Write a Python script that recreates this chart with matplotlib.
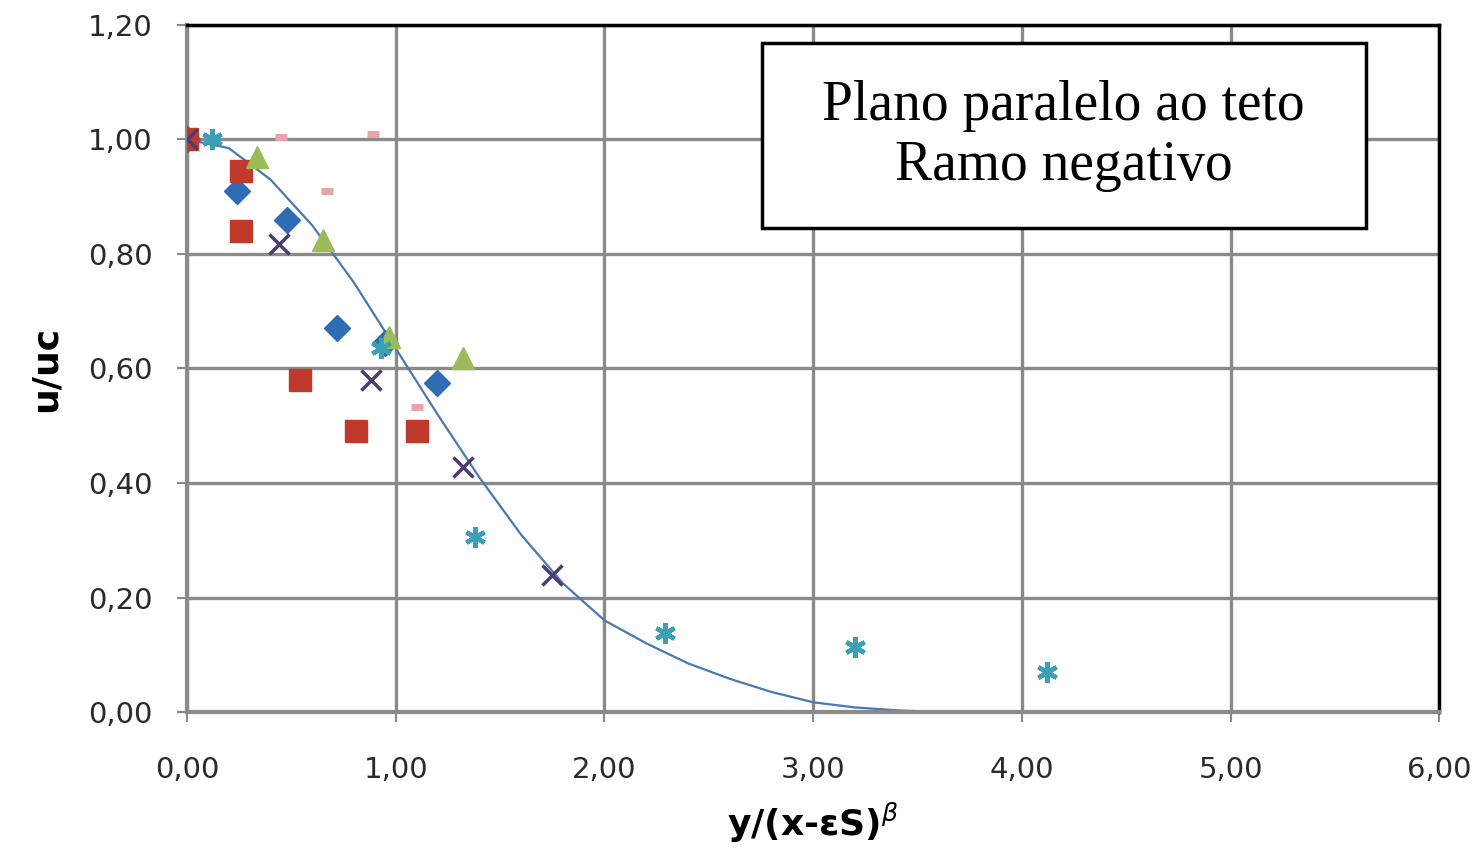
import matplotlib
matplotlib.use("Agg")
import matplotlib.pyplot as plt
from matplotlib.patches import Rectangle

# data
diamond_x = [0.00, 0.24, 0.48, 0.72, 0.95, 1.20]
diamond_y = [1.00, 0.91, 0.86, 0.67, 0.645, 0.575]

square_x = [0.00, 0.26, 0.26, 0.54, 0.81, 1.10]
square_y = [1.00, 0.945, 0.84, 0.58, 0.49, 0.49]

triangle_x = [0.335, 0.65, 0.97, 1.32]
triangle_y = [0.97, 0.825, 0.655, 0.618]

cross_x = [0.00, 0.44, 0.88, 1.32, 1.75]
cross_y = [1.00, 0.818, 0.58, 0.428, 0.239]

star_x = [0.12, 0.93, 1.38, 2.29, 3.20, 4.12]
star_y = [1.00, 0.635, 0.306, 0.138, 0.114, 0.070]

dash_x = [0.00, 0.45, 0.89, 0.67, 1.10]
dash_y = [1.00, 1.005, 1.01, 0.91, 0.533]

curve_x = [0.0, 0.2, 0.4, 0.6, 0.8, 1.0, 1.2, 1.4, 1.6, 1.8, 2.0, 2.2,
           2.4, 2.6, 2.8, 3.0, 3.2, 3.4, 3.6]
curve_y = [1.0, 0.985, 0.93, 0.85, 0.75, 0.635, 0.52, 0.41, 0.31, 0.225,
           0.16, 0.12, 0.085, 0.058, 0.035, 0.017, 0.008, 0.003, 0.0]

x_ticks = [0, 1, 2, 3, 4, 5, 6]
x_labels = ["0,00", "1,00", "2,00", "3,00", "4,00", "5,00", "6,00"]
y_ticks = [0.0, 0.2, 0.4, 0.6, 0.8, 1.0, 1.2]
y_labels = ["0,00", "0,20", "0,40", "0,60", "0,80", "1,00", "1,20"]

fig = plt.figure(figsize=(14.84, 8.52), dpi=100)
ax = fig.add_axes([0.126, 0.1643, 0.844, 0.8064])

grid_col = "#8a8a8a"
ax.set_axisbelow(True)
ax.grid(True, color=grid_col, linewidth=2.4)

ax.plot(curve_x, curve_y, color="#4a78b0", linewidth=1.6, zorder=2)

ax.plot(dash_x, dash_y, linestyle="none", marker="_", markersize=9,
        markeredgewidth=5, color="#e8a4aa", zorder=3)
ax.plot(diamond_x, diamond_y, linestyle="none", marker="D", markersize=13,
        color="#2e6db4", zorder=4)
ax.plot(square_x, square_y, linestyle="none", marker="s", markersize=16,
        color="#c0392b", zorder=4)
ax.plot(triangle_x, triangle_y, linestyle="none", marker="^", markersize=16,
        color="#9bbb59", zorder=4)
ax.plot(cross_x, cross_y, linestyle="none", marker="x", markersize=14,
        markeredgewidth=2.5, color="#4b3c6e", zorder=5)
ax.plot(star_x, star_y, linestyle="none", marker=(6, 2, 0), markersize=15,
        markeredgewidth=3.2, color="#3aa0b5", zorder=5)

ax.set_xlim(0, 6)
ax.set_ylim(0, 1.2)
ax.set_xticks(x_ticks)
ax.set_xticklabels(x_labels)
ax.set_yticks(y_ticks)
ax.set_yticklabels(y_labels)
ax.tick_params(axis="both", direction="out", length=7, width=1.5,
               color=grid_col, labelsize=21, labelcolor="#2a2a2a")
ax.tick_params(axis="x", pad=25)
ax.tick_params(axis="y", pad=18)

for side in ["left", "bottom"]:
    ax.spines[side].set_color(grid_col)
    ax.spines[side].set_linewidth(3)
for side in ["top", "right"]:
    ax.spines[side].set_color("black")
    ax.spines[side].set_linewidth(2.5)

ax.set_xlabel(r"y/(x-εS)$^{\beta}$", fontsize=26, fontweight="bold",
              labelpad=12)
ax.set_ylabel("u/uc", fontsize=26, fontweight="bold", labelpad=18)

box = Rectangle((0.459, 0.705), 0.482, 0.269, transform=ax.transAxes,
                facecolor="white", edgecolor="black", linewidth=2.5, zorder=6)
ax.add_patch(box)
ax.text(0.700, 0.838, "Plano paralelo ao teto\nRamo negativo",
        transform=ax.transAxes, ha="center", va="center", fontsize=40,
        family="Liberation Serif", linespacing=1.2, zorder=7)

fig.savefig("out.png", dpi=100)
